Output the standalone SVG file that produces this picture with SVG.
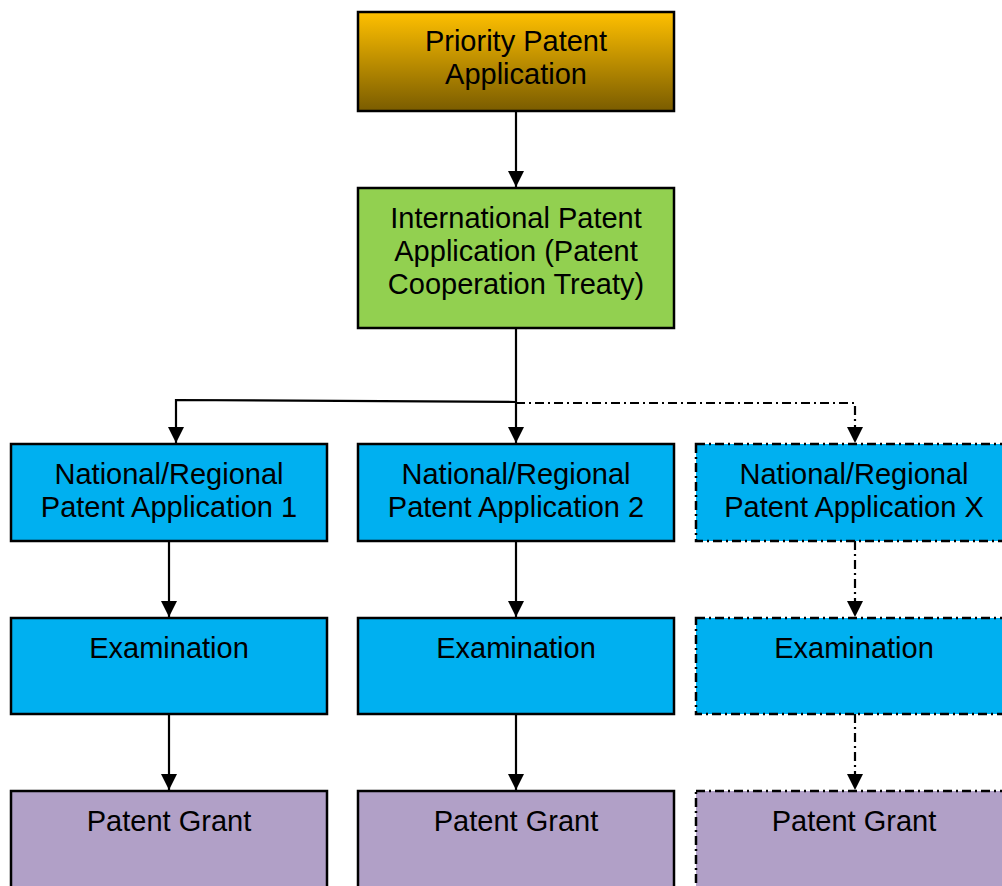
<svg xmlns="http://www.w3.org/2000/svg" width="1002" height="886" viewBox="0 0 1002 886">
<style>
.box{stroke:#000;stroke-width:2.5}
.dd{stroke-dasharray:9 4 2 4}
.t{font-family:"Liberation Sans",Arial,sans-serif;font-size:29px;fill:#000;text-anchor:middle}
.c{fill:none;stroke:#000;stroke-width:2.2}
</style>
<defs>
<linearGradient id="g" x1="0" y1="0" x2="0" y2="1">
<stop offset="0" stop-color="#FFC000"/>
<stop offset="1" stop-color="#7A5C00"/>
</linearGradient>
<marker id="a" viewBox="0 0 10 10" refX="10" refY="5" markerWidth="7.5" markerHeight="7.5" orient="auto" markerUnits="strokeWidth">
<path d="M0,0L10,5L0,10z" fill="#000"/>
</marker>
</defs>
<rect width="1002" height="886" fill="#fff"/>
<g id="connectors">
<path class="c" d="M516,111V187" marker-end="url(#a)"/>
<path class="c" d="M516,328V443" marker-end="url(#a)"/>
<path class="c" d="M516,402L176,400V443" marker-end="url(#a)"/>
<path class="c dd" d="M516,403H855V443" marker-end="url(#a)"/>
<path class="c" d="M169,541V617" marker-end="url(#a)"/>
<path class="c" d="M516,541V617" marker-end="url(#a)"/>
<path class="c dd" d="M855,541V617" marker-end="url(#a)"/>
<path class="c" d="M169,714V790" marker-end="url(#a)"/>
<path class="c" d="M516,714V790" marker-end="url(#a)"/>
<path class="c dd" d="M855,714V790" marker-end="url(#a)"/>
</g>
<g id="priority">
<rect class="box" x="358" y="12" width="316" height="99" fill="url(#g)"/>
<text class="t" x="516" y="51">Priority Patent</text>
<text class="t" x="516" y="84">Application</text>
</g>
<g id="international">
<rect class="box" x="358" y="188" width="316" height="140" fill="#92D050"/>
<text class="t" x="516" y="228">International Patent</text>
<text class="t" x="516" y="261">Application (Patent</text>
<text class="t" x="516" y="294">Cooperation Treaty)</text>
</g>
<g id="national1">
<rect class="box" x="11" y="444" width="316" height="97" fill="#00B0F0"/>
<text class="t" x="169" y="484">National/Regional</text>
<text class="t" x="169" y="517">Patent Application 1</text>
</g>
<g id="national2">
<rect class="box" x="358" y="444" width="316" height="97" fill="#00B0F0"/>
<text class="t" x="516" y="484">National/Regional</text>
<text class="t" x="516" y="517">Patent Application 2</text>
</g>
<g id="nationalX">
<rect class="box dd" x="696" y="444" width="316" height="97" fill="#00B0F0"/>
<text class="t" x="854" y="484">National/Regional</text>
<text class="t" x="854" y="517">Patent Application X</text>
</g>
<g id="exam1">
<rect class="box" x="11" y="618" width="316" height="96" fill="#00B0F0"/>
<text class="t" x="169" y="658">Examination</text>
</g>
<g id="exam2">
<rect class="box" x="358" y="618" width="316" height="96" fill="#00B0F0"/>
<text class="t" x="516" y="658">Examination</text>
</g>
<g id="examX">
<rect class="box dd" x="696" y="618" width="316" height="96" fill="#00B0F0"/>
<text class="t" x="854" y="658">Examination</text>
</g>
<g id="grant1">
<rect class="box" x="11" y="791" width="316" height="110" fill="#B1A0C7"/>
<text class="t" x="169" y="831">Patent Grant</text>
</g>
<g id="grant2">
<rect class="box" x="358" y="791" width="316" height="110" fill="#B1A0C7"/>
<text class="t" x="516" y="831">Patent Grant</text>
</g>
<g id="grantX">
<rect class="box dd" x="696" y="791" width="316" height="110" fill="#B1A0C7"/>
<text class="t" x="854" y="831">Patent Grant</text>
</g>
</svg>
